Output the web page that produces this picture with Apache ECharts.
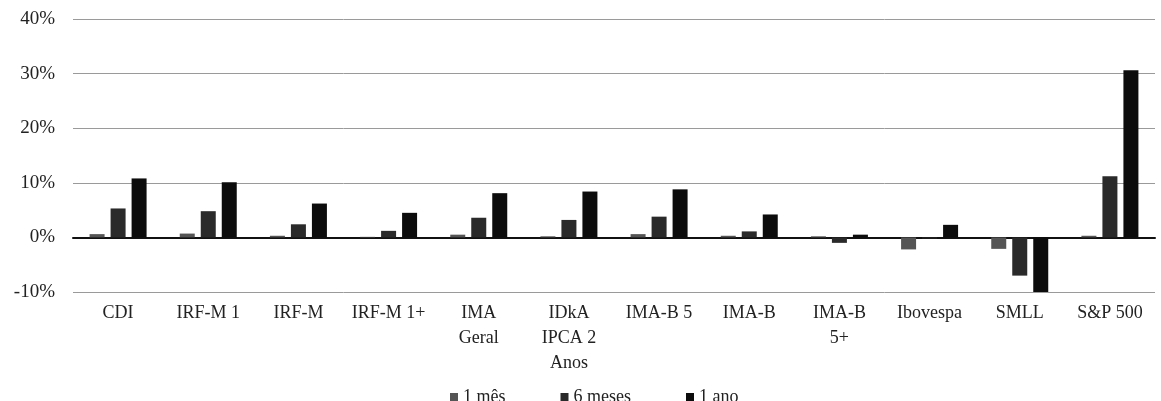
<!DOCTYPE html>
<html>
<head>
<meta charset="utf-8">
<script src="https://cdn.jsdelivr.net/npm/echarts@6/dist/echarts.min.js"></script>
<style>
  html, body { margin: 0; padding: 0; background: #fff; }
  #chart { width: 1161px; height: 401px; }
</style>
</head>
<body>
<div id="chart"></div>
<script>
const categories = ['CDI', 'IRF-M 1', 'IRF-M', 'IRF-M 1+', 'IMA\nGeral', 'IDkA\nIPCA 2\nAnos',
  'IMA-B 5', 'IMA-B', 'IMA-B\n5+', 'Ibovespa', 'SMLL', 'S&P 500']
const mes1 = [0.6, 0.7, 0.3, 0.1, 0.5, 0.2, 0.6, 0.3, 0.2, -2.2, -2.1, 0.3]
const meses6 = [5.3, 4.8, 2.4, 1.2, 3.6, 3.2, 3.8, 1.1, -1.0, -0.2, -7.0, 11.2]
const ano1 = [10.8, 10.1, 6.2, 4.5, 8.1, 8.4, 8.8, 4.2, 0.5, 2.3, -10.2, 30.6]
const yTicks = { min: -10, max: 40, interval: 10 }

const chart = echarts.init(document.getElementById('chart'))
const font = '"Liberation Serif", "DejaVu Serif", serif'

const option = {
  animation: false,
  textStyle: { fontFamily: font },
  grid: { left: 73, right: 6, top: 19, bottom: 109, outerBoundsMode: 'none', containLabel: false },
  legend: {
    top: 383,
    left: 445,
    itemWidth: 8,
    itemHeight: 8,
    itemGap: 55,
    icon: 'rect',
    textStyle: { fontFamily: font, fontSize: 18, color: '#222' },
    data: ['1 mês', '6 meses', '1 ano']
  },
  xAxis: {
    type: 'category',
    data: categories,
    axisLine: { onZero: true, lineStyle: { color: '#111', width: 2 } },
    axisTick: { show: false },
    axisLabel: {
      interval: 0,
      fontFamily: font,
      fontSize: 18,
      color: '#222',
      lineHeight: 25,
      margin: 9
    }
  },
  yAxis: {
    type: 'value',
    min: yTicks.min,
    max: yTicks.max,
    interval: yTicks.interval,
    axisLine: { show: false },
    axisTick: { show: false },
    axisLabel: {
      formatter: '{value}%',
      fontFamily: font,
      fontSize: 19,
      color: '#222',
      margin: 18
    },
    splitLine: { lineStyle: { color: '#9a9a9a', width: 1 } }
  },
  series: [
    {
      name: '1 mês',
      type: 'bar',
      data: mes1,
      barWidth: 15,
      barGap: '40%',
      itemStyle: { color: '#555' }
    },
    {
      name: '6 meses',
      type: 'bar',
      data: meses6,
      barWidth: 15,
      barGap: '40%',
      itemStyle: { color: '#2a2a2a' }
    },
    {
      name: '1 ano',
      type: 'bar',
      data: ano1,
      barWidth: 15,
      barGap: '40%',
      itemStyle: { color: '#0c0c0c' }
    }
  ]
}

chart.setOption(option)
</script>
</body>
</html>
